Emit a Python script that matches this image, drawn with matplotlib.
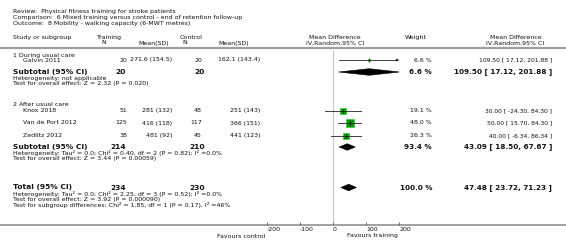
import matplotlib
matplotlib.use('Agg')
import matplotlib.pyplot as plt
from matplotlib.patches import Polygon

plt.rcParams['axes.unicode_minus'] = False

# header text
review = 'Review:  Physical fitness training for stroke patients'
comparison = 'Comparison:  6 Mixed training versus control - end of retention follow-up'
outcome = 'Outcome:  8 Mobility - walking capacity (6-MWT metres)'

# studies
studies = ['Galvin 2011', 'Knox 2018', 'Van de Port 2012', 'Zedlitz 2012']
train_n = [20, 51, 125, 38]
train_mean = [271.6, 281, 416, 481]
train_sd = [154.5, 132, 118, 92]
ctrl_n = [20, 48, 117, 45]
ctrl_mean = [162.1, 251, 366, 441]
ctrl_sd = [143.4, 143, 151, 123]
md = [109.50, 30.00, 50.00, 40.00]
md_lo = [17.12, -24.30, 15.70, -6.34]
md_hi = [201.88, 84.30, 84.30, 86.34]
weight = [6.6, 19.1, 48.0, 26.3]

# subgroups
groups = ['1 During usual care', '2 After usual care']
sub_train_n = [20, 214]
sub_ctrl_n = [20, 210]
sub_weight = [6.6, 93.4]
sub_md = [109.50, 43.09]
sub_lo = [17.12, 18.50]
sub_hi = [201.88, 67.67]
sub_het = ['Heterogeneity: not applicable',
           'Heterogeneity: Tau\u00b2 = 0.0; Chi\u00b2 = 0.40, df = 2 (P = 0.82); I\u00b2 =0.0%']
sub_test = ['Test for overall effect: Z = 2.32 (P = 0.020)',
            'Test for overall effect: Z = 3.44 (P = 0.00059)']

# overall
total_train_n = 234
total_ctrl_n = 230
total_weight = 100.0
total_md, total_lo, total_hi = 47.48, 23.72, 71.23
total_notes = ['Heterogeneity: Tau\u00b2 = 0.0; Chi\u00b2 = 2.25, df = 3 (P = 0.52); I\u00b2 =0.0%',
               'Test for overall effect: Z = 3.92 (P = 0.000090)',
               'Test for subgroup differences: Chi\u00b2 = 1.85, df = 1 (P = 0.17), I\u00b2 =46%']

xticks = [-200, -100, 0, 100, 200]

# layout (pixel rows)
study_y = [60, 110.5, 123, 135.5]
group_y = [55, 104.5]
sub_y = [72, 147]
total_y = 187.5
axis_y = 225

SMALL = 4.5
HEAD = 4.5
BIG = 5.4
GREY = '#a0a0a0'

fig = plt.figure(figsize=(5.66, 2.48), dpi=100)
bg = fig.add_axes([0, 0, 1, 1])
bg.set_xlim(0, 566)
bg.set_ylim(248, 0)
bg.axis('off')


def txt(x, y, s, ha='left', size=SMALL, bold=False):
    bg.text(x, y, s, ha=ha, va='center', fontsize=size,
            fontweight='bold' if bold else 'normal', color='#111111')


txt(13, 12, review)
txt(13, 18, comparison)
txt(13, 24, outcome)

txt(13, 37.5, 'Study or subgroup', size=HEAD)
txt(97, 37.5, 'Training', size=HEAD)
txt(104, 43, 'N', ha='center', size=HEAD)
txt(138, 43, 'Mean(SD)', size=HEAD)
txt(180, 37.5, 'Control', size=HEAD)
txt(185, 43, 'N', ha='center', size=HEAD)
txt(218, 43, 'Mean(SD)', size=HEAD)
txt(335, 37.5, 'Mean Difference', ha='center', size=HEAD)
txt(335, 43, 'IV,Random,95% CI', ha='center', size=HEAD)
txt(416, 37.5, 'Weight', ha='center', size=HEAD)
txt(516, 37.5, 'Mean Difference', ha='center', size=HEAD)
txt(515, 43, 'IV,Random,95% CI', ha='center', size=HEAD)

bg.axhline(48, color=GREY, lw=1.6)
bg.axhline(axis_y, color=GREY, lw=1.4)

for i, name in enumerate(studies):
    y = study_y[i]
    txt(23, y, name)
    txt(127, y, str(train_n[i]), ha='right')
    txt(172, y, '{:g} ({:g})'.format(train_mean[i], train_sd[i]), ha='right')
    txt(202, y, str(ctrl_n[i]), ha='right')
    txt(260, y, '{:g} ({:g})'.format(ctrl_mean[i], ctrl_sd[i]), ha='right')
    txt(432, y, '{:.1f} %'.format(weight[i]), ha='right')
    txt(552, y, '{:.2f} [ {:.2f}, {:.2f} ]'.format(md[i], md_lo[i], md_hi[i]),
        ha='right', size=4.3)

for g, name in enumerate(groups):
    y = sub_y[g]
    txt(13, group_y[g], name)
    txt(13, y, 'Subtotal (95% CI)', size=BIG, bold=True)
    txt(126, y, str(sub_train_n[g]), ha='right', size=BIG, bold=True)
    txt(205, y, str(sub_ctrl_n[g]), ha='right', size=BIG, bold=True)
    txt(432, y, '{:.1f} %'.format(sub_weight[g]), ha='right', size=5.2, bold=True)
    txt(552, y, '{:.2f} [ {:.2f}, {:.2f} ]'.format(sub_md[g], sub_lo[g], sub_hi[g]),
        ha='right', size=5.2, bold=True)
    txt(13, y + 6.3, sub_het[g])
    txt(13, y + 11.8, sub_test[g])

txt(13, total_y, 'Total (95% CI)', size=BIG, bold=True)
txt(126, total_y, str(total_train_n), ha='right', size=BIG, bold=True)
txt(205, total_y, str(total_ctrl_n), ha='right', size=BIG, bold=True)
txt(432, total_y, '{:.1f} %'.format(total_weight), ha='right', size=5.2, bold=True)
txt(552, total_y, '{:.2f} [ {:.2f}, {:.2f} ]'.format(total_md, total_lo, total_hi),
    ha='right', size=5.2, bold=True)
for k, note in enumerate(total_notes):
    txt(13, total_y + 6.3 + 5.4 * k, note)

txt(265, 236, 'Favours control', ha='right', size=HEAD)
txt(347, 236, 'Favours training', size=HEAD)

# forest panel
ax = fig.add_axes([267 / 566, 0, 132 / 566, 1])
ax.set_xlim(xticks[0], xticks[-1])
ax.set_ylim(248, 0)
ax.patch.set_visible(False)
for side in ['top', 'left', 'right']:
    ax.spines[side].set_visible(False)
ax.spines['bottom'].set_position(('data', axis_y))
ax.spines['bottom'].set_color('none')
ax.set_yticks([])
ax.set_xticks(xticks)
ax.tick_params(axis='x', direction='in', length=2, width=0.6, color='#555555',
               labelsize=SMALL, pad=1.2, labelcolor='#111111')
for lab in ax.get_xticklabels():
    lab.set_ha('left')

ax.vlines(0, 50, axis_y, color='#c8c8c8', lw=0.8, zorder=1)

for i in range(len(studies)):
    y = study_y[i]
    side = 1.15 * weight[i] ** 0.5 * 0.72
    ax.scatter([md[i]], [y], marker='s', s=side ** 2, facecolor='#009a00',
               edgecolor='#40c040', linewidth=0.5, zorder=3)
    if md_hi[i] > xticks[-1]:
        ax.plot([md_lo[i], xticks[-1] - 6], [y, y], color='#222222', lw=0.6, zorder=4)
        ax.annotate('', xy=(xticks[-1], y), xytext=(xticks[-1] - 8, y),
                    arrowprops=dict(arrowstyle='-|>', lw=0.5, color='#222222',
                                    mutation_scale=3.5, shrinkA=0, shrinkB=0),
                    zorder=4)
    else:
        ax.plot([md_lo[i], md_hi[i]], [y, y], color='#222222', lw=0.6, zorder=4)
    ax.plot([md[i]], [y], marker='|', markersize=2.2, color='black',
            markeredgewidth=0.5, zorder=5)


def diamond(est, lo, hi, y, h=3.3):
    ax.add_patch(Polygon([(lo, y), (est, y - h), (hi, y), (est, y + h)],
                         closed=True, facecolor='black', edgecolor='black',
                         lw=0.4, zorder=3))


for g in range(len(groups)):
    diamond(sub_md[g], sub_lo[g], sub_hi[g], sub_y[g])
diamond(total_md, total_lo, total_hi, total_y)

fig.savefig('out.png', dpi=100)
